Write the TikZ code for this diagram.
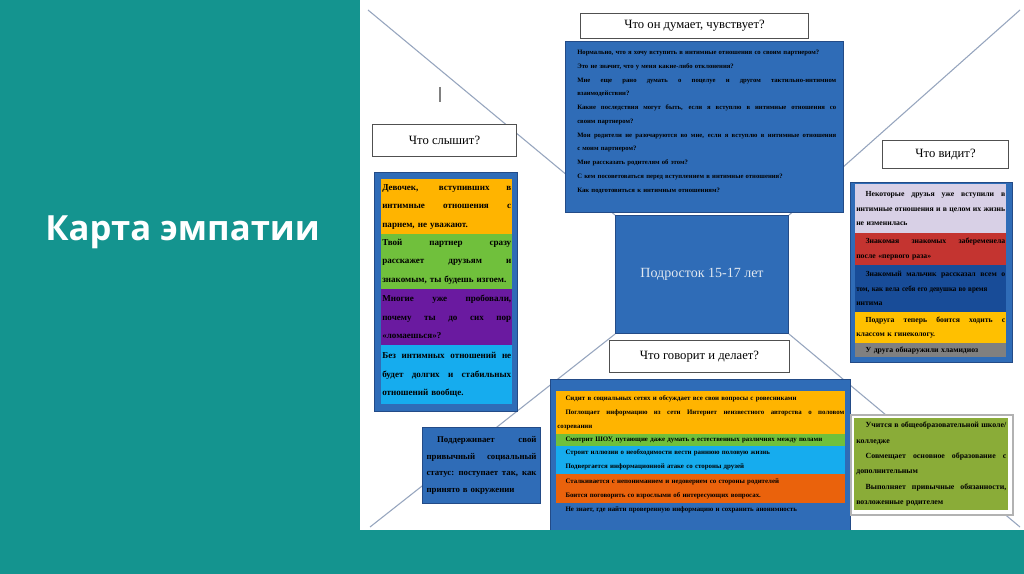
\documentclass[tikz,border=0pt]{standalone}
\usepackage{fontspec}
\usepackage{graphicx}
\setmainfont{Liberation Serif}
\newfontfamily\titlefont{Open Sans}
\usepackage{xcolor}

\definecolor{bgteal}{RGB}{20,148,143}
\definecolor{boxblue}{RGB}{47,108,183}
\definecolor{boxedge}{RGB}{35,75,135}
\definecolor{orangeband}{RGB}{255,180,0}
\definecolor{greenband}{RGB}{112,192,60}
\definecolor{purpleband}{RGB}{106,26,160}
\definecolor{skyband}{RGB}{22,172,238}
\definecolor{lavband}{RGB}{216,208,230}
\definecolor{redband}{RGB}{196,52,48}
\definecolor{navyband}{RGB}{24,76,152}
\definecolor{yellowband}{RGB}{255,192,0}
\definecolor{grayband}{RGB}{128,128,128}
\definecolor{rustband}{RGB}{234,98,12}
\definecolor{oliveband}{RGB}{138,172,56}
\definecolor{diagline}{RGB}{150,165,190}
\definecolor{labeledge}{RGB}{80,80,80}
\definecolor{teenfont}{RGB}{225,232,240}

\newcommand\fsz[2]{\fontsize{#1}{#2}\selectfont\bfseries}
\newcommand\jw{100pt}
\newcommand\jl[1]{{\spaceskip=0.25em plus 3em minus 0.05em\makebox[\jw][s]{#1}}}
\newcommand\indt{\hspace*{1.2em}}

\tikzset{
  jwidth/.style={text width=#1, execute at begin node={\def\jw{#1}}},
  lbl/.style={draw=labeledge, fill=white, line width=0.8pt, anchor=north west, inner sep=0pt, font=\fontsize{9.5}{11}\selectfont},
  bluebox/.style={draw=boxedge, fill=boxblue, line width=0.8pt, anchor=north west, inner sep=0pt},
  band/.style={anchor=north west, inner xsep=0.75pt, inner ysep=0pt, align=left},
  txt/.style={anchor=north west, inner sep=0pt, align=left},
  diag/.style={draw=diagline, line width=0.8pt},
  hearband/.style={band, jwidth=96.75pt, font=\fsz{6.8}{13.9}},
  seeband/.style={band, jwidth=111.75pt, font=\fsz{5.8}{10.9}},
  sayband/.style={band, jwidth=215.25pt, font=\fsz{5.15}{10.5}}
}

\begin{document}
\begin{tikzpicture}[x=0.75pt, y=-0.75pt]
% background and white panel
\fill[bgteal] (0,0) rectangle (1024,574);
\fill[white] (360,0) rectangle (1024,530);

\node[font=\titlefont\bfseries\fontsize{26}{30}\selectfont, text=white, anchor=base west, inner sep=0pt] (title) at (45,240) {Карта эмпатии};

% centre
\node[bluebox, minimum width=129.75pt, minimum height=88.5pt, text=teenfont, font=\fontsize{10.5}{12}\selectfont] (teen) at (615,215) {Подросток 15-17 лет};

\coordinate (tl) at (368,10);
\coordinate (tr) at (1020,10);
\coordinate (bl) at (370,527);
\coordinate (br) at (1020,527);
\draw[diag] (tl) -- (teen.north west);
\draw[diag] (tr) -- (teen.north east);
\draw[diag] (bl) -- (teen.south west);
\draw[diag] (br) -- (teen.south east);
\draw[gray, line width=1.5pt] (440,87) -- (440,102);

% thinks
\node[lbl, minimum width=171pt, minimum height=18.75pt] (thinkhead) at (580,13) {Что он думает, чувствует?};
\node[bluebox, minimum width=208.5pt, minimum height=128.25pt] (think) at (565,41) {};
\node[txt, jwidth=194.25pt, font=\fsz{5.0}{10.3}] (thinktext) at (577,50) {Нормально, что я хочу вступить в интимные отношения со своим партнером?\\
Это не значит, что у меня какие-либо отклонения?\\
\jl{Мне еще рано думать о поцелуе и другом тактильно-интимном}\\
взаимодействии?\\
\jl{Какие последствия могут быть, если я вступлю в интимные отношения со}\\
своим партнером?\\
\jl{Мои родители не разочаруются во мне, если я вступлю в интимные отношения}\\
с моим партнером?\\
Мне рассказать родителям об этом?\\
С кем посоветоваться перед вступлением в интимные отношения?\\
Как подготовиться к интимным отношениям?};

% hears
\node[lbl, minimum width=108pt, minimum height=24pt] (hearhead) at (372,124) {Что слышит?};
\node[bluebox, minimum width=107.25pt, minimum height=179.25pt] (hear) at (374,172) {};
\node[hearband, fill=orangeband, minimum height=41.25pt] (hear1) at (381,179) {\jl{Девочек, вступивших в}\\ \jl{интимные отношения с}\\ парнем, не уважают.};
\node[hearband, fill=greenband, minimum height=41.25pt] (hear2) at (381,234) {\jl{Твой партнер сразу}\\ \jl{расскажет друзьям и}\\ знакомым, ты будешь изгоем.};
\node[hearband, fill=purpleband, minimum height=42pt] (hear3) at (381,289) {\jl{Многие уже пробовали,}\\ \jl{почему ты до сих пор}\\ «ломаешься»?};
\node[hearband, fill=skyband, minimum height=44.25pt] (hear4) at (381,345) {\jl{Без интимных отношений не}\\ \jl{будет долгих и стабильных}\\ отношений вообще.};

% sees
\node[lbl, minimum width=94.5pt, minimum height=21pt] (seehead) at (882,140) {Что видит?};
\node[bluebox, minimum width=121.5pt, minimum height=135pt] (see) at (850,182) {};
\node[seeband, fill=lavband, minimum height=36.75pt] (see1) at (855,184) {\jl{\indt Некоторые друзья уже вступили в}\\ \jl{интимные отношения и в целом их жизнь}\\ не изменилась};
\node[seeband, fill=redband, minimum height=24pt] (see2) at (855,233) {\jl{\indt Знакомая знакомых забеременела}\\ после «первого раза»};
\node[seeband, fill=navyband, minimum height=35.25pt] (see3) at (855,265) {\jl{\indt Знакомый мальчик рассказал всем о}\\ \makebox[\jw][l]{\scalebox{0.9}[1]{том, как вела себя его девушка во время}}\\ интима};
\node[seeband, fill=yellowband, minimum height=23.25pt] (see4) at (855,312) {\jl{\indt Подруга теперь боится ходить с}\\ классом к гинекологу.};
\node[seeband, fill=grayband, minimum height=10.5pt] (see5) at (855,343) {\indt У друга обнаружили хламидиоз};

% says and does
\node[lbl, minimum width=135pt, minimum height=24pt] (sayhead) at (609,340) {Что говорит и делает?};
\node[bluebox, minimum width=225pt, minimum height=113.25pt] (say) at (550,379) {};
\node[sayband, fill=orangeband, minimum height=32.25pt] (say1) at (556,391) {\indt Сидит в социальных сетях и обсуждает все свои вопросы с ровесниками\\ \jl{\indt Поглощает информацию из сети Интернет неизвестного авторства о половом}\\ созревании};
\node[sayband, fill=greenband, minimum height=9pt] (say2) at (556,434) {\indt Смотрит ШОУ, путающие даже думать о естественных различиях между полами};
\node[sayband, fill=skyband, minimum height=21pt] (say3) at (556,446) {\indt Строит иллюзии о необходимости вести раннюю половую жизнь\\ \indt Подвергается информационной атаке со стороны друзей};
\node[sayband, fill=rustband, minimum height=21.75pt] (say4) at (556,474) {\indt Сталкивается с непониманием и недоверием со стороны родителей\\ \indt Боится поговорить со взрослыми об интересующих вопросах.};
\node[txt, jwidth=215.25pt, font=\fsz{5.15}{10.5}] (say5) at (557,506) {\indt Не знает, где найти проверенную информацию и сохранить анонимность};

\node[bluebox, minimum width=88.5pt, minimum height=57pt, inner xsep=3pt, jwidth=82.5pt, align=left, font=\fsz{6.6}{12.4}] (status) at (422,427) {\jl{\indt Поддерживает свой}\\ \jl{привычный социальный}\\ \jl{статус: поступает так, как}\\ принято в окружении};

\node[draw=gray!60, line width=1.5pt, fill=white, anchor=north west, minimum width=121.5pt, minimum height=75pt, inner sep=0pt] (study) at (850,414) {};
\node[band, fill=oliveband, jwidth=112.5pt, inner xsep=1.5pt, minimum height=69pt, font=\fsz{5.9}{11.6}] (studytext) at (854,418) {\jl{\indt Учится в общеобразовательной школе/}\\ колледже\\ \jl{\indt Совмещает основное образование с}\\ дополнительным\\ \jl{\indt Выполняет привычные обязанности,}\\ возложенные родителем};

% bottom strip
\fill[bgteal] (0,530) rectangle (1024,574);
\end{tikzpicture}
\end{document}
